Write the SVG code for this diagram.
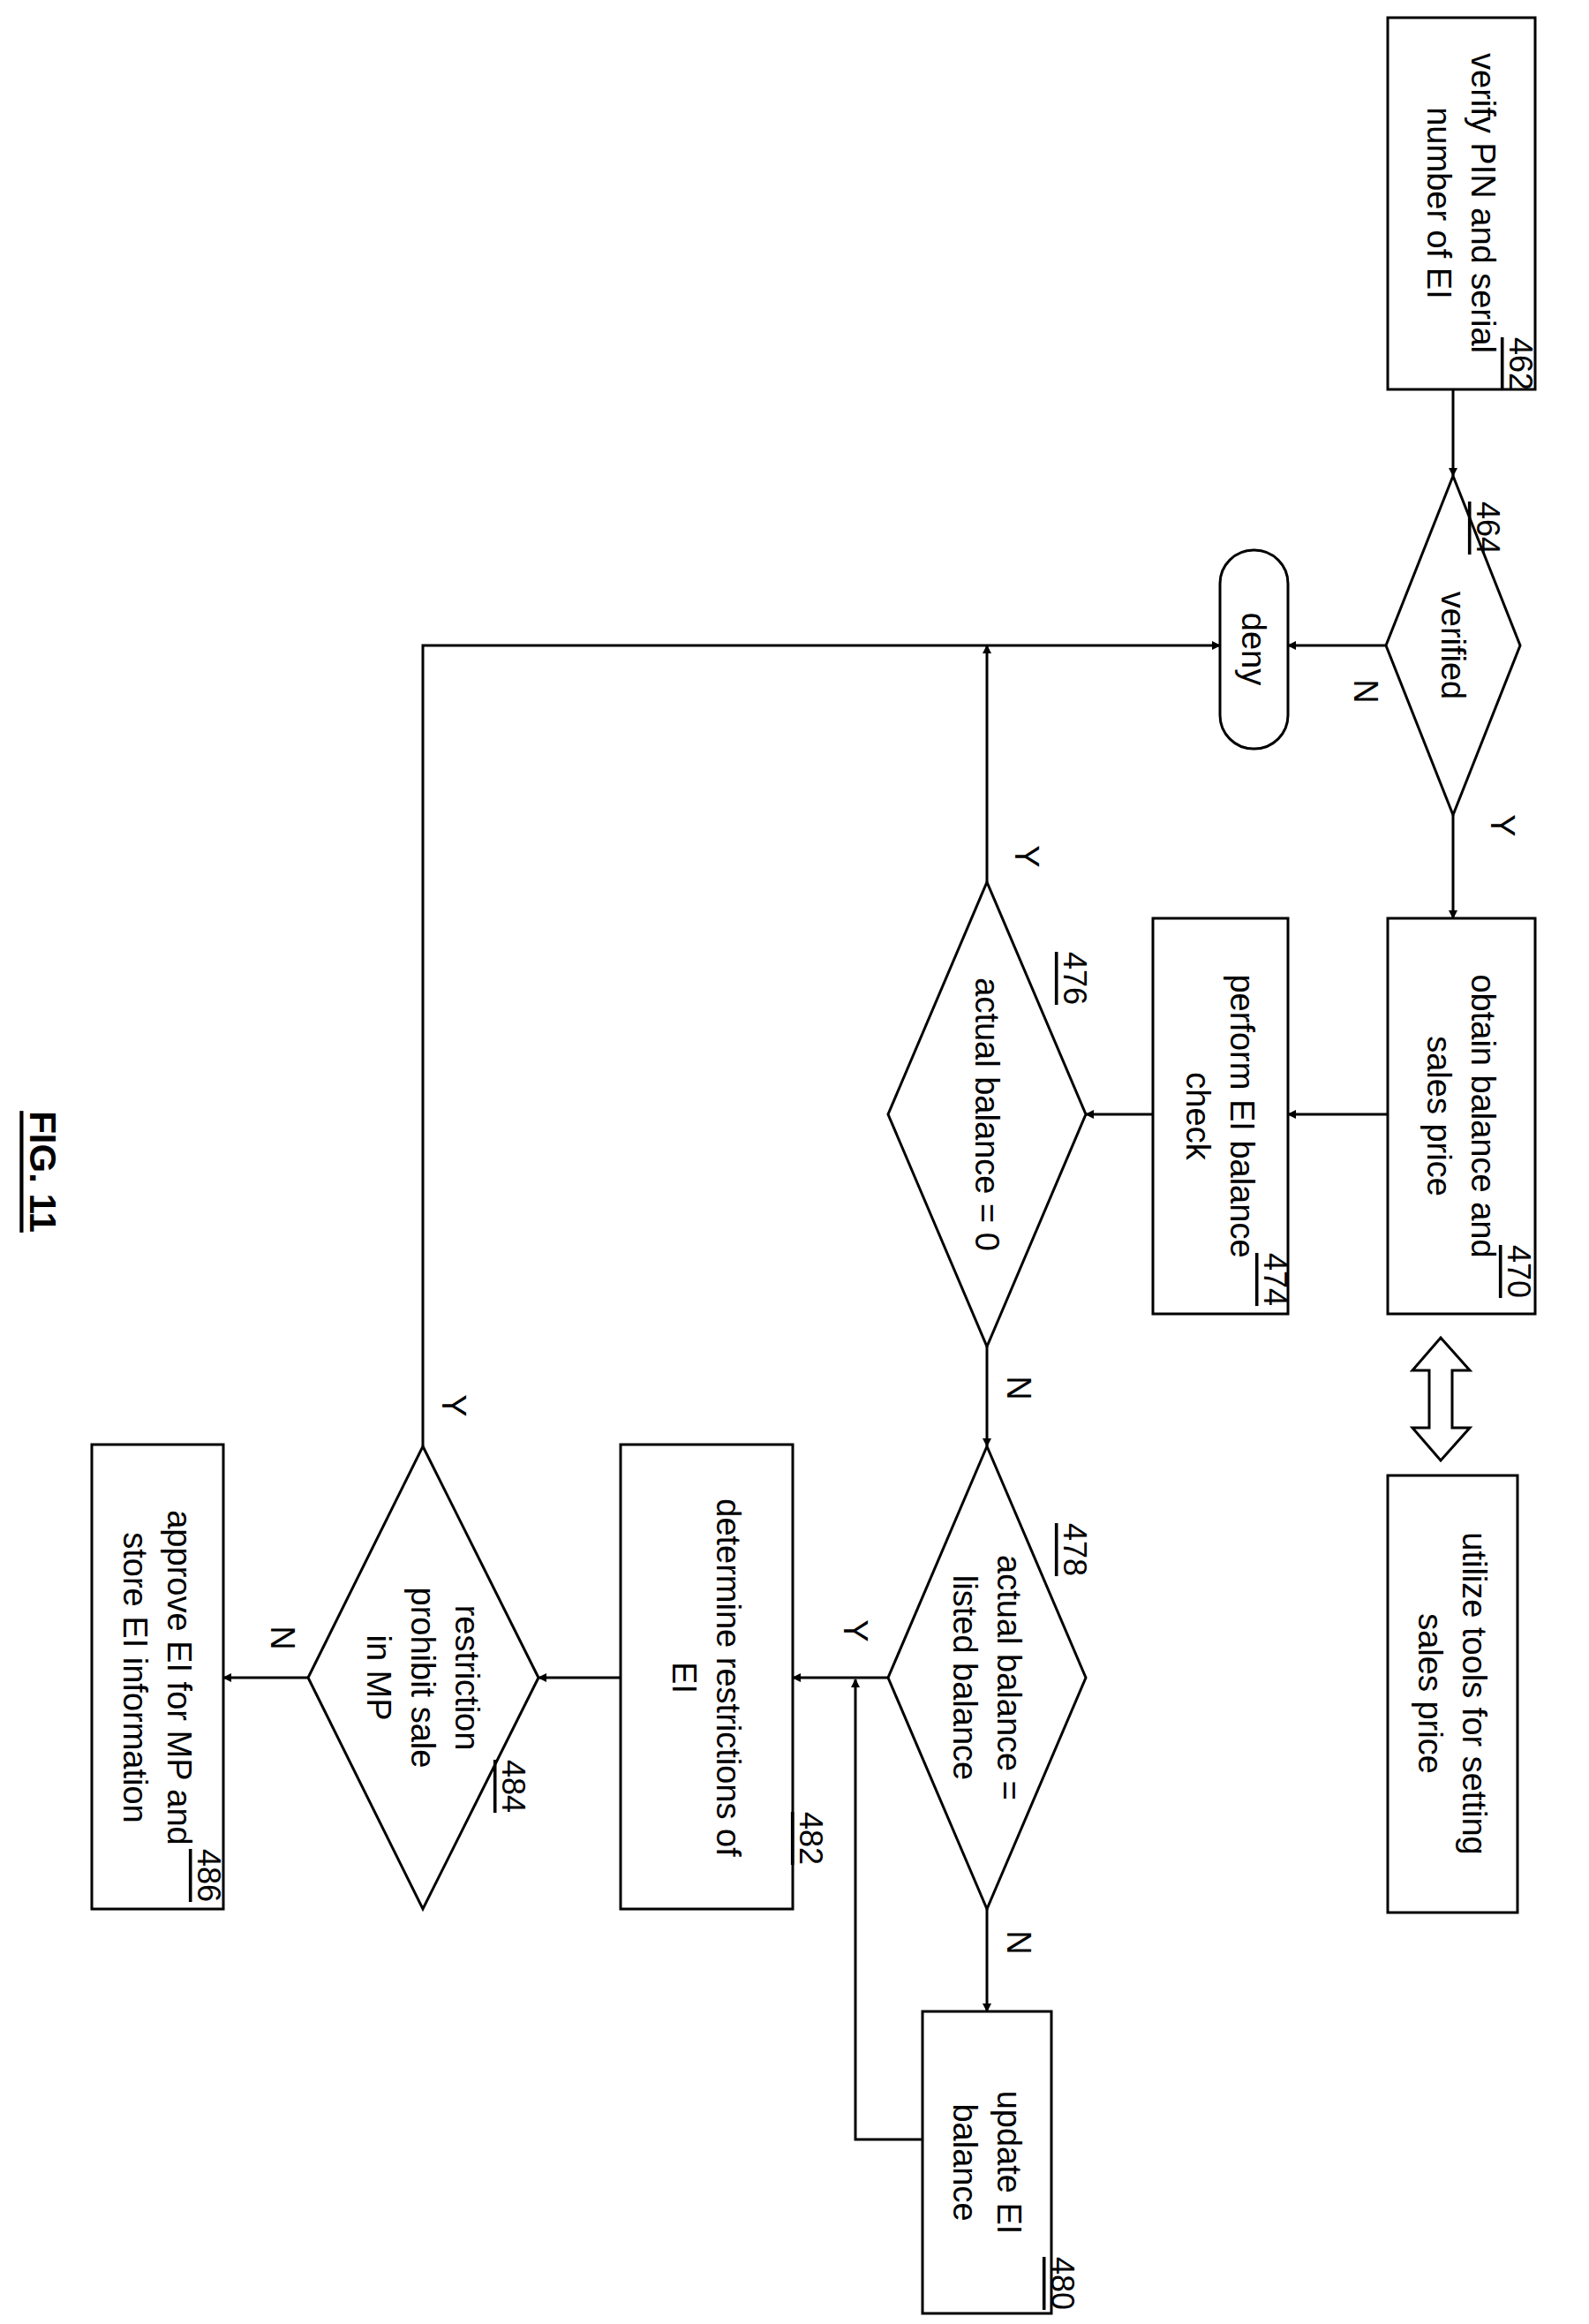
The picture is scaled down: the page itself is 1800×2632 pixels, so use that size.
<svg xmlns="http://www.w3.org/2000/svg" width="1800" height="2632" viewBox="0 0 1800 2632">
<style>
.s{fill:#fff;stroke:#000;stroke-width:3}
.t{font-family:"Liberation Sans",Arial,sans-serif;font-size:38px;text-anchor:middle;dominant-baseline:central}
.r{font-family:"Liberation Sans",Arial,sans-serif;font-size:36px;text-anchor:middle;dominant-baseline:central;text-decoration:underline}
.c{fill:none;stroke:#000;stroke-width:3}
</style>
<defs>
<marker id="a" markerWidth="10" markerHeight="10" refX="9" refY="5" orient="auto" markerUnits="userSpaceOnUse" viewBox="0 0 10 10">
<path d="M0,0 L10,5 L0,10 z" fill="#000"/>
</marker>
</defs>
<rect width="1800" height="2632" fill="#fff"/>
<g id="connectors">
<line class="c" x1="1646" y1="441" x2="1646" y2="539" marker-end="url(#a)" style="marker-end:url(#a)"/>
<line class="c" x1="1570" y1="731" x2="1459" y2="731" marker-end="url(#a)"/>
<line class="c" x1="1646" y1="923" x2="1646" y2="1040" marker-end="url(#a)"/>
<line class="c" x1="1572" y1="1262" x2="1459" y2="1262" marker-end="url(#a)"/>
<line class="c" x1="1306" y1="1262" x2="1230" y2="1262" marker-end="url(#a)"/>
<line class="c" x1="1118" y1="999" x2="1118" y2="731" marker-end="url(#a)"/>
<line class="c" x1="1118" y1="1525" x2="1118" y2="1638" marker-end="url(#a)"/>
<line class="c" x1="1118" y1="2162" x2="1118" y2="2278" marker-end="url(#a)"/>
<polyline class="c" points="1045,2423 969,2423 969,1902" marker-end="url(#a)"/>
<line class="c" x1="1006" y1="1900" x2="898" y2="1900" marker-end="url(#a)"/>
<line class="c" x1="703" y1="1900" x2="610" y2="1900" marker-end="url(#a)"/>
<polyline class="c" points="479,1638 479,731 1382,731" marker-end="url(#a)"/>
<line class="c" x1="349" y1="1900" x2="253" y2="1900" marker-end="url(#a)"/>
<polygon class="s" points="1632,1515 1665,1552 1645,1552 1645,1617 1665,1617 1632,1654 1600,1617 1619,1617 1619,1552 1600,1552"/>
<text class="t" transform="translate(1547,783) rotate(90)">N</text>
<text class="t" transform="translate(1702,935) rotate(90)">Y</text>
<text class="t" transform="translate(1163,970) rotate(90)">Y</text>
<text class="t" transform="translate(1154,1572) rotate(90)">N</text>
<text class="t" transform="translate(1154,2200) rotate(90)">N</text>
<text class="t" transform="translate(969,1847) rotate(90)">Y</text>
<text class="t" transform="translate(514,1592) rotate(90)">Y</text>
<text class="t" transform="translate(320,1855) rotate(90)">N</text>
</g>
<g id="n462"><rect class="s" x="1572" y="20" width="167" height="421"/>
<text class="t" transform="translate(1655,230) rotate(90)"><tspan x="0" y="-25">verify PIN and serial</tspan><tspan x="0" y="25">number of EI</tspan></text>
<text class="r" transform="translate(1722,412) rotate(90)">462</text></g>
<g id="n464"><polygon class="s" points="1646,539 1722,731 1646,923 1570,731"/>
<text class="t" transform="translate(1646,731) rotate(90)">verified</text>
<text class="r" transform="translate(1685,598) rotate(90)">464</text></g>
<g id="deny"><rect class="s" x="1382" y="623" width="77" height="225" rx="38"/>
<text class="t" transform="translate(1420,735) rotate(90)">deny</text></g>
<g id="n470"><rect class="s" x="1572" y="1040" width="167" height="448"/>
<text class="t" transform="translate(1655,1264) rotate(90)"><tspan x="0" y="-25">obtain balance and</tspan><tspan x="0" y="25">sales price</tspan></text>
<text class="r" transform="translate(1720,1440) rotate(90)">470</text></g>
<g id="n474"><rect class="s" x="1306" y="1040" width="153" height="448"/>
<text class="t" transform="translate(1382,1264) rotate(90)"><tspan x="0" y="-25">perform EI balance</tspan><tspan x="0" y="25">check</tspan></text>
<text class="r" transform="translate(1444,1449) rotate(90)">474</text></g>
<g id="n476"><polygon class="s" points="1118,999 1230,1262 1118,1525 1006,1262"/>
<text class="t" transform="translate(1118,1262) rotate(90)">actual balance = 0</text>
<text class="r" transform="translate(1217,1108) rotate(90)">476</text></g>
<g id="utilize"><rect class="s" x="1572" y="1671" width="147" height="495"/>
<text class="t" transform="translate(1645,1918) rotate(90)"><tspan x="0" y="-25">utilize tools for setting</tspan><tspan x="0" y="25">sales price</tspan></text></g>
<g id="n478"><polygon class="s" points="1118,1638 1230,1900 1118,2162 1006,1900"/>
<text class="t" transform="translate(1118,1900) rotate(90)"><tspan x="0" y="-25">actual balance =</tspan><tspan x="0" y="25">listed balance</tspan></text>
<text class="r" transform="translate(1217,1755) rotate(90)">478</text></g>
<g id="n480"><rect class="s" x="1045" y="2278" width="146" height="342"/>
<text class="t" transform="translate(1118,2449) rotate(90)"><tspan x="0" y="-25">update EI</tspan><tspan x="0" y="25">balance</tspan></text>
<text class="r" transform="translate(1203,2586) rotate(90)">480</text></g>
<g id="n482"><rect class="s" x="703" y="1636" width="195" height="526"/>
<text class="t" transform="translate(800,1900) rotate(90)"><tspan x="0" y="-25">determine restrictions of</tspan><tspan x="0" y="25">EI</tspan></text>
<text class="r" transform="translate(918,2082) rotate(90)">482</text></g>
<g id="n484"><polygon class="s" points="479,1638 610,1900 479,2162 349,1900"/>
<text class="t" transform="translate(479,1900) rotate(90)"><tspan x="0" y="-50">restriction</tspan><tspan x="0" y="0">prohibit sale</tspan><tspan x="0" y="50">in MP</tspan></text>
<text class="r" transform="translate(581,2023) rotate(90)">484</text></g>
<g id="n486"><rect class="s" x="104" y="1636" width="149" height="526"/>
<text class="t" transform="translate(178,1900) rotate(90)"><tspan x="0" y="-25">approve EI for MP and</tspan><tspan x="0" y="25">store EI information</tspan></text>
<text class="r" transform="translate(236,2124) rotate(90)">486</text></g>
<text class="r" style="font-weight:bold;font-size:42px" transform="translate(48,1327) rotate(90)">FIG. 11</text>
</svg>
